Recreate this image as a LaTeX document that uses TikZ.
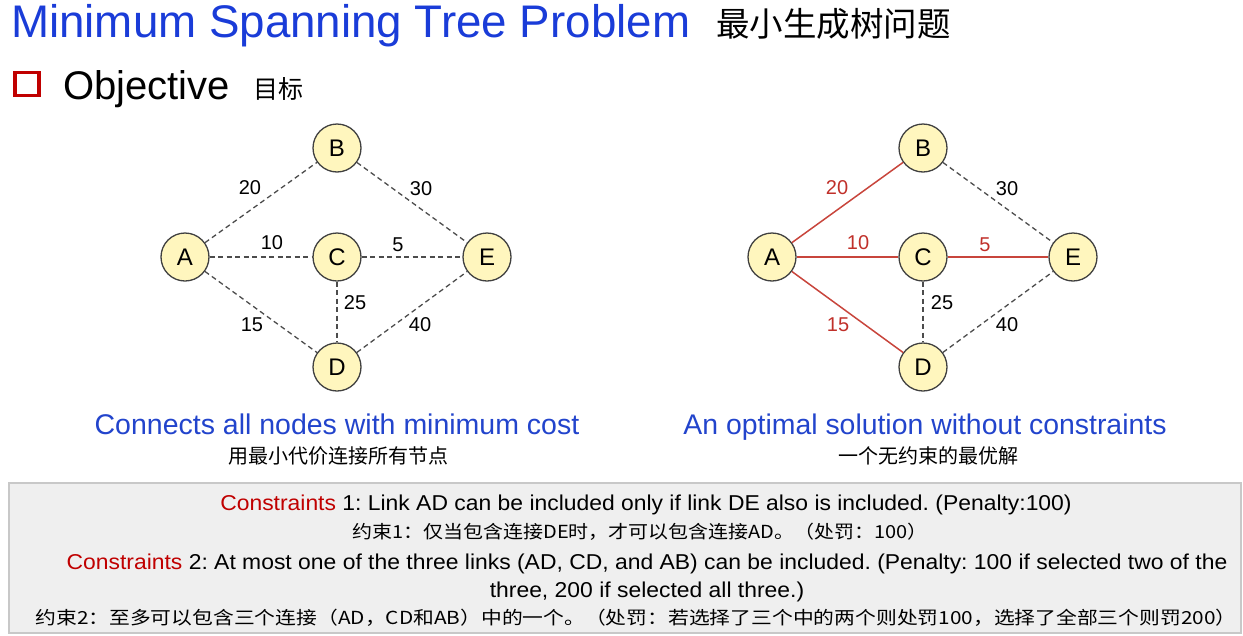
\documentclass[tikz,border=0pt]{standalone}
\usepackage{fontspec}
\setmainfont{Liberation Sans}
\newfontfamily\cjk{Noto Sans CJK SC}
\definecolor{titleblue}{HTML}{1A3CD8}
\definecolor{capblue}{HTML}{2244CC}
\definecolor{edgered}{HTML}{C8453C}
\definecolor{labred}{HTML}{C0302A}
\definecolor{conred}{HTML}{C00000}
\definecolor{nodefill}{HTML}{FFF6BE}
\definecolor{boxfill}{HTML}{EFEFEF}
\definecolor{boxline}{HTML}{C8C8C8}
\frenchspacing
\begin{document}
\begin{tikzpicture}[x=1pt,y=-1pt,
  vertex/.style={circle,draw=black!75,line width=1.3pt,fill=nodefill,minimum size=48pt,inner sep=0pt,font=\fontsize{24}{24}\selectfont},
  dedge/.style={draw=black!70,dashed,dash pattern=on 5pt off 3.5pt,line width=1.3pt},
  redge/.style={draw=edgered,line width=1.5pt},
  lbl/.style={font=\fontsize{20}{20}\selectfont,inner sep=0pt},
  rlbl/.style={lbl,text=labred},
  boxtxt/.style={font=\fontsize{21.5}{21.5}\selectfont,inner sep=0pt,anchor=base},
  cjktxt/.style={font=\cjk\fontsize{18}{18}\selectfont,inner sep=0pt,anchor=base}]
\useasboundingbox (0,0) rectangle (1243,635);
% title
\node[anchor=base west,inner sep=0pt,text=titleblue,font=\fontsize{45.7}{45.7}\selectfont] (title) at (11,37) {Minimum Spanning Tree Problem};
\node[anchor=base west,inner sep=0pt,font=\cjk\fontsize{33.5}{33.5}\selectfont] (titlecn) at (716,36) {最小生成树问题};
\node[draw=conred,line width=3.5pt,minimum width=24pt,minimum height=23pt,inner sep=0pt] (sq) at (27,84) {};
\node[anchor=base west,inner sep=0pt,font=\fontsize{40}{40}\selectfont] (obj) at (63,99) {Objective};
\node[anchor=base west,inner sep=0pt,font=\cjk\fontsize{25}{25}\selectfont] (objcn) at (253,98) {目标};
% left graph
\node[vertex] (A1) at (185,257) {A};
\node[vertex] (B1) at (337,148) {B};
\node[vertex] (C1) at (337,257) {C};
\node[vertex] (D1) at (337,367) {D};
\node[vertex] (E1) at (487,257) {E};
\draw[dedge] (A1) -- (B1);
\draw[dedge] (B1) -- (E1);
\draw[dedge] (A1) -- (C1);
\draw[dedge] (C1) -- (E1);
\draw[dedge] (C1) -- (D1);
\draw[dedge] (A1) -- (D1);
\draw[dedge] (D1) -- (E1);
\node[lbl] (l1ab) at (250,188) {20};
\node[lbl] (l1be) at (421,189) {30};
\node[lbl] (l1ac) at (272,243) {10};
\node[lbl] (l1ce) at (398,245) {5};
\node[lbl] (l1cd) at (355,303) {25};
\node[lbl] (l1ad) at (252,325) {15};
\node[lbl] (l1de) at (420,325) {40};
% right graph
\node[vertex] (A2) at (772,257) {A};
\node[vertex] (B2) at (923,148) {B};
\node[vertex] (C2) at (923,257) {C};
\node[vertex] (D2) at (923,367) {D};
\node[vertex] (E2) at (1073,257) {E};
\draw[redge] (A2) -- (B2);
\draw[dedge] (B2) -- (E2);
\draw[redge] (A2) -- (C2);
\draw[redge] (C2) -- (E2);
\draw[dedge] (C2) -- (D2);
\draw[redge] (A2) -- (D2);
\draw[dedge] (D2) -- (E2);
\node[rlbl] (l2ab) at (837,188) {20};
\node[lbl] (l2be) at (1007,189) {30};
\node[rlbl] (l2ac) at (858,243) {10};
\node[rlbl] (l2ce) at (985,245) {5};
\node[lbl] (l2cd) at (942,303) {25};
\node[rlbl] (l2ad) at (838,325) {15};
\node[lbl] (l2de) at (1007,325) {40};
% captions
\node[anchor=base,inner sep=0pt,text=capblue,font=\fontsize{28.5}{28.5}\selectfont] (cap1) at (337,434) {Connects all nodes with minimum cost};
\node[anchor=base,inner sep=0pt,font=\cjk\fontsize{20}{20}\selectfont] (cap1cn) at (338,463) {用最小代价连接所有节点};
\node[anchor=base,inner sep=0pt,text=capblue,font=\fontsize{28.4}{28.4}\selectfont] (cap2) at (925,434) {An optimal solution without constraints};
\node[anchor=base,inner sep=0pt,font=\cjk\fontsize{20}{20}\selectfont] (cap2cn) at (928,463) {一个无约束的最优解};
% constraints box
\path[fill=boxfill,draw=boxline,line width=1.5pt] (9,483) rectangle (1241,633);
\node[boxtxt] (c1) at (646,510) {\scalebox{1.065}[1]{\textcolor{conred}{Constraints} 1: Link AD can be included only if link DE also is included. (Penalty:100)}};
\node[cjktxt] (c1cn) at (640,538) {\scalebox{1.11}[1]{约束1：仅当包含连接DE时，才可以包含连接AD。（处罚：100）}};
\node[boxtxt] (c2) at (647,569) {\scalebox{1.065}[1]{\textcolor{conred}{Constraints} 2: At most one of the three links (AD, CD, and AB) can be included. (Penalty: 100 if selected two of the}};
\node[boxtxt] (c2b) at (647,597) {\scalebox{1.065}[1]{three, 200 if selected all three.)}};
\node[cjktxt] (c2cn) at (636,624) {\scalebox{1.155}[1]{约束2：至多可以包含三个连接（AD，CD和AB）中的一个。（处罚：若选择了三个中的两个则处罚100，选择了全部三个则罚200）}};
\end{tikzpicture}
\end{document}
